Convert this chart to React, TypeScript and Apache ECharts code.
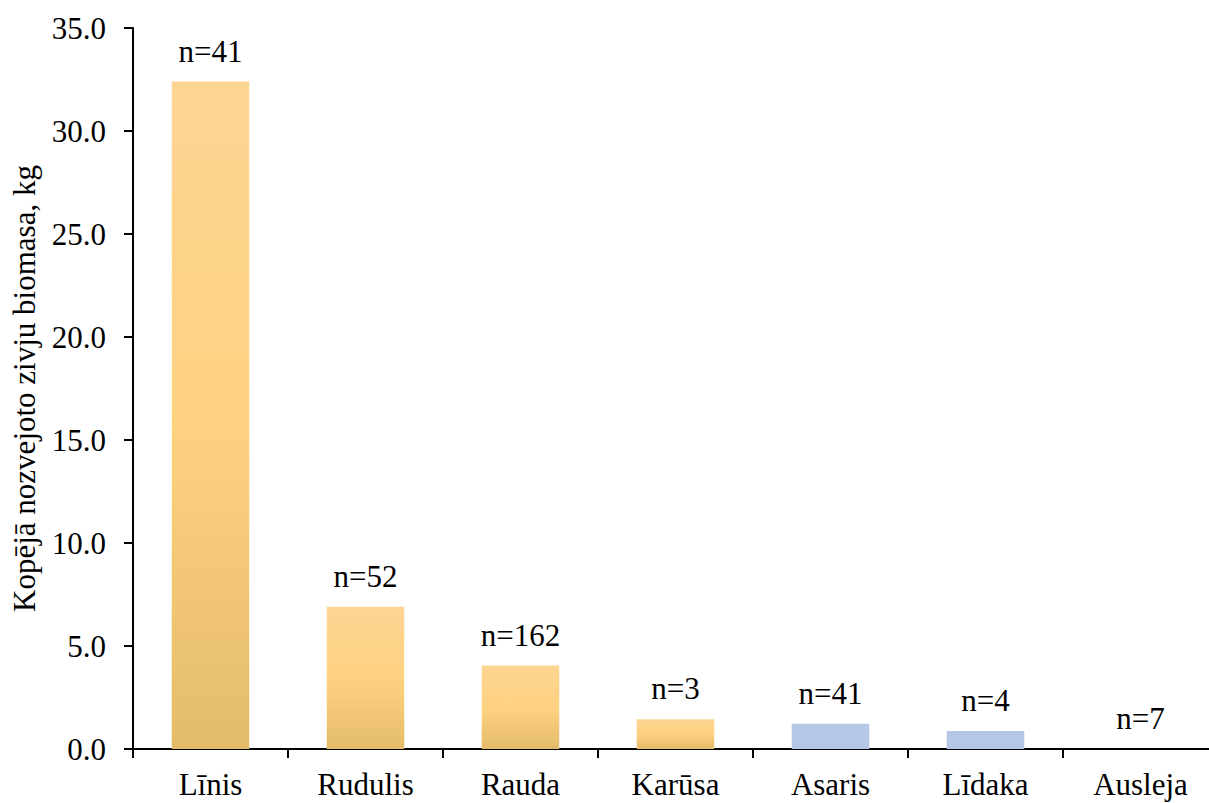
import React, { useEffect, useRef } from "react";
import * as echarts from "echarts";

const categories = ["Līnis", "Rudulis", "Rauda", "Karūsa", "Asaris", "Līdaka", "Ausleja"];
const biomass = [32.4, 6.9, 4.05, 1.45, 1.22, 0.87, 0];
const counts = ["n=41", "n=52", "n=162", "n=3", "n=41", "n=4", "n=7"];
const barKinds = ["orange", "orange", "orange", "orange", "blue", "blue", "blue"];
const yTicks = [0, 5, 10, 15, 20, 25, 30, 35];

const FONT = "Liberation Serif";

export default function App() {
  const ref = useRef<HTMLDivElement>(null);
  useEffect(() => {
    if (!ref.current) return;
    const chart = echarts.init(ref.current, null, { renderer: "svg" });
    const orangeGrad = new echarts.graphic.LinearGradient(0, 0, 0, 1, [
      { offset: 0, color: "#FDD593" },
      { offset: 0.5, color: "#FED281" },
      { offset: 1, color: "#E4BC69" },
    ]);
    chart.setOption({
      animation: false,
      textStyle: { fontFamily: FONT },
      grid: { left: 133, right: 7, top: 28, bottom: 54, containLabel: false },
      xAxis: {
        type: "category",
        data: categories,
        axisLine: { lineStyle: { color: "#000", width: 2 } },
        axisTick: { show: true, length: 9, lineStyle: { color: "#000", width: 2 }, alignWithLabel: false },
        axisLabel: { color: "#000", fontFamily: FONT, fontSize: 31, margin: 20, interval: 0 },
      },
      yAxis: {
        type: "value",
        min: yTicks[0],
        max: yTicks[yTicks.length - 1],
        interval: 5,
        name: "Kopējā nozvejoto zivju biomasa, kg",
        nameLocation: "middle",
        nameGap: 93,
        nameTextStyle: { color: "#000", fontFamily: FONT, fontSize: 31 },
        axisLine: { show: true, lineStyle: { color: "#000", width: 2 } },
        axisTick: { show: true, length: 9, lineStyle: { color: "#000", width: 2 } },
        axisLabel: {
          color: "#000",
          fontFamily: FONT,
          fontSize: 31,
          margin: 27,
          formatter: (v: number) => v.toFixed(1),
        },
        splitLine: { show: false },
      },
      series: [
        {
          type: "bar",
          barWidth: "50%",
          data: biomass.map((v, i) => ({
            value: v,
            itemStyle: { color: barKinds[i] === "orange" ? orangeGrad : "#B4C7E7" },
            label: {
              show: true,
              position: "top",
              distance: 15,
              formatter: counts[i],
              color: "#000",
              fontFamily: FONT,
              fontSize: 31,
            },
          })),
        },
      ],
    });
    return () => chart.dispose();
  }, []);
  return (
    <div style={{ position: "fixed", left: 0, top: 0, width: 1209, height: 803, overflow: "hidden", background: "#fff" }}>
      <div ref={ref} style={{ width: 1225, height: 803 }} />
    </div>
  );
}
